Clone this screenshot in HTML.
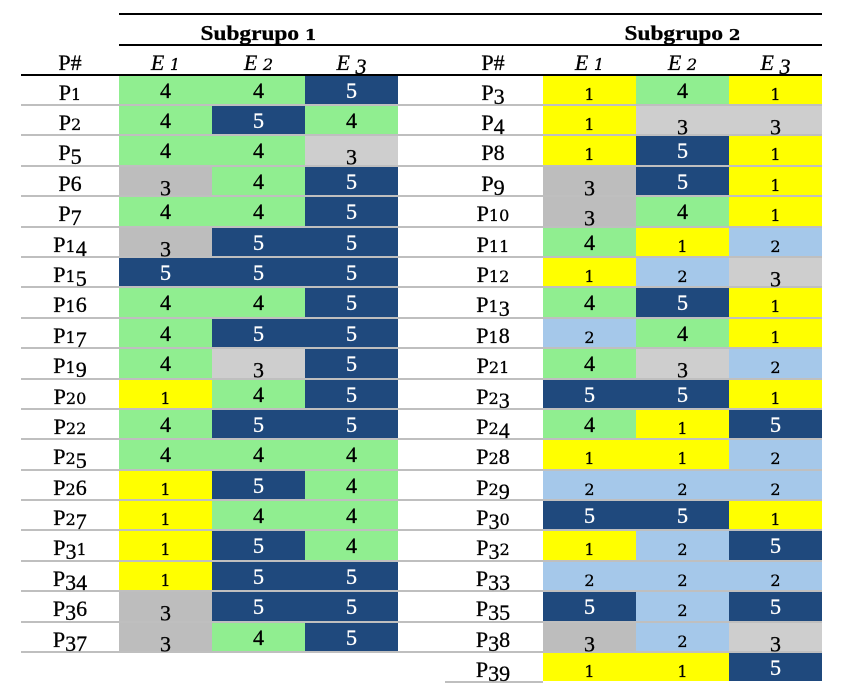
<!DOCTYPE html>
<html lang="es">
<head>
<meta charset="utf-8">
<title>Subgrupos</title>
<style>
html,body{margin:0;padding:0;background:#fff;width:845px;height:698px;overflow:hidden}
svg{display:block}
text{font-family:"Liberation Serif",serif;fill:#000;stroke-width:.3px}
</style>
</head>
<body>
<svg id="chart" width="845" height="698" viewBox="0 0 845 698" xmlns="http://www.w3.org/2000/svg"></svg>
<script>
const groupTitles = ['Subgrupo 1', 'Subgrupo 2'];
const columnLabels = ['E 1', 'E 2', 'E 3'];
const idHeader = 'P#';

const group1Labels = ['P1','P2','P5','P6','P7','P14','P15','P16','P17','P19','P20','P22','P25','P26','P27','P31','P34','P36','P37'];
const group1E1 = [4,4,4,3,4,3,5,4,4,4,1,4,4,1,1,1,1,3,3];
const group1E2 = [4,5,4,4,4,5,5,4,5,3,4,5,4,5,4,5,5,5,4];
const group1E3 = [5,4,3,5,5,5,5,5,5,5,5,5,4,4,4,4,5,5,5];

const group2Labels = ['P3','P4','P8','P9','P10','P11','P12','P13','P18','P21','P23','P24','P28','P29','P30','P32','P33','P35','P38','P39'];
const group2E1 = [1,1,1,3,3,4,1,4,2,4,5,4,1,2,5,1,2,5,3,1];
const group2E2 = [4,3,5,5,4,1,2,5,4,3,5,1,1,2,5,2,2,2,2,1];
const group2E3 = [1,3,1,1,1,2,3,1,1,2,1,5,2,2,1,5,2,5,3,5];

const SVGNS = 'http://www.w3.org/2000/svg';
const svg = document.getElementById('chart');

// Axis functions
const CELL_W = 93;
const LINE_PITCH = 30.39;
function lineTop(i) { return Math.round(104 + LINE_PITCH * i); }
function rowTop(i) { return i === 0 ? 76 : lineTop(i - 1) + 2; }
function rowBottom(i) { return lineTop(i); }
function colX(groupLeft, j) { return groupLeft + CELL_W * j; }

function cellFill(value, col) {
  if (value === 1) return '#ffff00';
  if (value === 2) return '#a5c8ea';
  if (value === 3) return col === 0 ? '#bdbdbd' : '#cecece';
  if (value === 4) return '#90ee90';
  return '#1f497d';
}
function digitBaseline(value) {
  if (value === 3) return 28.5;
  if (value === 1 || value === 2) return 24;
  return 22;
}

function rect(x, y, w, h, fill) {
  const r = document.createElementNS(SVGNS, 'rect');
  r.setAttribute('x', x);
  r.setAttribute('y', y);
  r.setAttribute('width', w);
  r.setAttribute('height', h);
  r.setAttribute('fill', fill);
  svg.appendChild(r);
  return r;
}
function text(x, y, size, fill) {
  const t = document.createElementNS(SVGNS, 'text');
  t.setAttribute('x', x);
  t.setAttribute('y', y);
  t.setAttribute('text-anchor', 'middle');
  t.setAttribute('font-size', size);
  t.style.fill = fill;
  t.style.stroke = fill;
  svg.appendChild(t);
  return t;
}
// Approximates old-style numerals: small x-height 0/1/2, descending 3/4/5/7/9.
function appendOldStyle(t, str, size) {
  let offset = 0;
  for (const ch of str) {
    const s = document.createElementNS(SVGNS, 'tspan');
    let target = 0;
    if (ch === '0' || ch === '1' || ch === '2') {
      s.setAttribute('font-size', size * 0.73);
      s.style.fontFamily = '"DejaVu Serif", serif';
    } else if ('34579'.includes(ch)) {
      target = 4;
    }
    s.setAttribute('dy', target - offset);
    offset = target;
    s.textContent = ch;
    t.appendChild(s);
  }
}

function drawCells(groupLeft, labels, series) {
  labels.forEach(function (label, i) {
    const top = rowTop(i);
    const height = rowBottom(i) - top;
    series.forEach(function (values, j) {
      const cell = rect(colX(groupLeft, j), top, CELL_W, height, cellFill(values[i], j));
      
      
    });
  });
}

function drawValues(groupLeft, labelX, labels, series) {
  labels.forEach(function (label, i) {
    const top = rowTop(i);
    series.forEach(function (values, j) {
      const value = values[i];
      const small = value === 1 || value === 2;
      const t = text(colX(groupLeft, j) + CELL_W / 2, top + digitBaseline(value), small ? 16 : 22, value === 5 ? '#ffffff' : '#000000');
      if (small) t.style.fontFamily = '"DejaVu Serif", serif';
      t.textContent = value;
      
      
    });
    const l = text(labelX, top + 24, 22, '#000000');
    appendOldStyle(l, label, 22);
    
    
  });
}

function drawHeaders(groupLeft, labelX, title, titleX) {
  const h = text(titleX, 40, 21, '#000000');
  h.style.fontWeight = 'bold';
  h.setAttribute('textLength', 116);
  h.setAttribute('lengthAdjust', 'spacingAndGlyphs');
  h.textContent = title.slice(0, -1);
  const titleDigit = document.createElementNS(SVGNS, 'tspan');
  titleDigit.setAttribute('font-size', 15);
  titleDigit.style.fontFamily = '"DejaVu Serif", serif';
  titleDigit.textContent = title.slice(-1);
  h.appendChild(titleDigit);
  
  

  const p = text(labelX, 70, 22, '#000000');
  p.textContent = idHeader;
  
  

  columnLabels.forEach(function (name, j) {
    const c = text(colX(groupLeft, j) + CELL_W / 2, 70, 22, '#000000');
    c.style.fontStyle = 'italic';
    appendOldStyle(c, name, 22);
    
    
  });
}

drawCells(119, group1Labels, [group1E1, group1E2, group1E3]);
drawCells(543, group2Labels, [group2E1, group2E2, group2E3]);

// Row separators
for (let i = 0; i < 19; i++) {
  const sep = rect(21, lineTop(i), 801, 2, '#bfbfbf');
  
  
}
const lastSep = rect(445, lineTop(19), 98, 2, '#bfbfbf');



// Header rules
const topRule = rect(119, 13, 703, 2, '#000000');


const midRule = rect(119, 44, 703, 2, '#000000');


const headRule = rect(21, 74, 801, 2, '#000000');



drawValues(119, 70, group1Labels, [group1E1, group1E2, group1E3]);
drawValues(543, 493, group2Labels, [group2E1, group2E2, group2E3]);
drawHeaders(119, 70, groupTitles[0], 258.5);
drawHeaders(543, 493, groupTitles[1], 682.5);
</script>
</body>
</html>
